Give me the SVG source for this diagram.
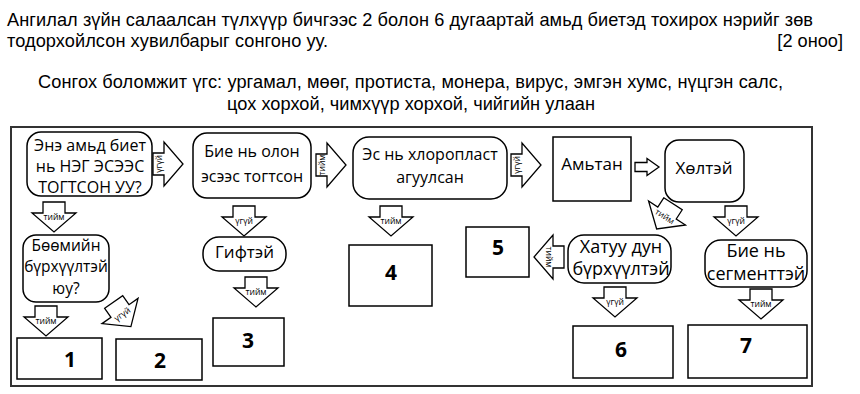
<svg xmlns="http://www.w3.org/2000/svg" xmlns:xlink="http://www.w3.org/1999/xlink" width="860" height="394" viewBox="0 0 860 394">
<style>
.title{font-family:"Liberation Sans",Arial,sans-serif;font-size:18.2px;fill:#000}
.box{fill:#fff;stroke:#000;stroke-width:1.5}
.t{font-family:"Open Sans","Noto Sans",sans-serif;fill:#000;text-anchor:middle}
.num{font-family:"Open Sans","Noto Sans",sans-serif;font-weight:bold;font-size:21px;fill:#000;text-anchor:middle}
.arr{fill:#fff;stroke:#000;stroke-width:1.3;stroke-linejoin:miter}
.al{font-family:"Open Sans","Noto Sans",sans-serif;font-size:8.5px;fill:#000;text-anchor:middle}
</style>
<defs>
<path id="da" d="M-11,-11 H11 V0 H22 L0,19 L-22,0 H-11 Z"/>
</defs>
<rect width="860" height="394" fill="#fff"/>
<g id="heading">
<text class="title" x="7" y="26" textLength="806" lengthAdjust="spacing">Ангилал зүйн салаалсан түлхүүр бичгээс 2 болон 6 дугаартай амьд биетэд тохирох нэрийг зөв</text>
<text class="title" x="7" y="47" textLength="321" lengthAdjust="spacing">тодорхойлсон хувилбарыг сонгоно уу.</text>
<text class="title" x="843" y="47" text-anchor="end">[2 оноо]</text>
<text class="title" x="38" y="88" textLength="745" lengthAdjust="spacing">Сонгох боломжит үгс: ургамал, мөөг, протиста, монера, вирус, эмгэн хумс, нүцгэн салс,</text>
<text class="title" x="227" y="110" textLength="368" lengthAdjust="spacing">цох хорхой, чимхүүр хорхой, чийгийн улаан</text>
</g>
<rect id="frame" x="11" y="127" width="801" height="259" fill="none" stroke="#333" stroke-width="2"/>
<g id="connectors">
<g transform="translate(164,164) rotate(-90)"><use xlink:href="#da" href="#da" class="arr"/><text class="al" x="0" y="-2">үгүй</text></g>
<g transform="translate(327,165) rotate(-90)"><use xlink:href="#da" href="#da" class="arr"/><text class="al" x="0" y="-2">тийм</text></g>
<g transform="translate(522,165) rotate(-90)"><use xlink:href="#da" href="#da" class="arr"/><text class="al" x="0" y="-2">үгүй</text></g>
<path class="arr" d="M635,162.5 H647 V158.5 L659,167 L647,175.5 V171.5 H635 Z"/>
<g transform="translate(54,213)"><use xlink:href="#da" href="#da" class="arr"/><text class="al" x="0" y="7">тийм</text></g>
<g transform="translate(46,317)"><use xlink:href="#da" href="#da" class="arr"/><text class="al" x="0" y="7">тийм</text></g>
<g transform="translate(244,217)"><use xlink:href="#da" href="#da" class="arr"/><text class="al" x="0" y="7">үгүй</text></g>
<g transform="translate(391,217)"><use xlink:href="#da" href="#da" class="arr"/><text class="al" x="0" y="7">тийм</text></g>
<g transform="translate(256,288)"><use xlink:href="#da" href="#da" class="arr"/><text class="al" x="0" y="7">тийм</text></g>
<g transform="translate(615,298)"><use xlink:href="#da" href="#da" class="arr"/><text class="al" x="0" y="7">үгүй</text></g>
<g transform="translate(736,217)"><use xlink:href="#da" href="#da" class="arr"/><text class="al" x="0" y="7">үгүй</text></g>
<g transform="translate(761,300)"><use xlink:href="#da" href="#da" class="arr"/><text class="al" x="0" y="7">тийм</text></g>
<g transform="translate(553,257) rotate(90)"><use xlink:href="#da" href="#da" class="arr"/><text class="al" x="0" y="7">тийм</text></g>
<g transform="translate(667,213) rotate(33)"><use xlink:href="#da" href="#da" class="arr"/><text class="al" x="0" y="7">тийм</text></g>
<g transform="translate(120,311) rotate(-35)"><use xlink:href="#da" href="#da" class="arr"/><text class="al" x="0" y="7">үгүй</text></g>
</g>
<g id="n1"><rect class="box" x="27" y="132" width="125" height="64" rx="14"/>
<text class="t" font-size="16" x="90" y="151">Энэ амьд биет</text>
<text class="t" font-size="16" x="90" y="172">нь НЭГ ЭСЭЭС</text>
<text class="t" font-size="16" x="90" y="193">ТОГТСОН УУ?</text></g>
<g id="n2"><rect class="box" x="193" y="133" width="118" height="65" rx="14"/>
<text class="t" font-size="16" x="252" y="157">Бие нь олон</text>
<text class="t" font-size="16" x="252" y="182">эсээс тогтсон</text></g>
<g id="n3"><rect class="box" x="353" y="137" width="154" height="62" rx="16"/>
<text class="t" font-size="16" x="430" y="160">Эс нь хлоропласт</text>
<text class="t" font-size="16" x="430" y="183">агуулсан</text></g>
<g id="n-amitan"><rect class="box" x="553" y="137" width="78" height="64"/>
<text class="t" font-size="17" x="592" y="170">Амьтан</text></g>
<g id="n-kholtei"><rect class="box" x="665" y="140" width="79" height="62" rx="14"/>
<text class="t" font-size="17" x="704" y="174">Хөлтэй</text></g>
<g id="n-boomiin"><rect class="box" x="23" y="235" width="86" height="67" rx="13"/>
<text class="t" font-size="15.5" x="66" y="251">Бөөмийн</text>
<text class="t" font-size="15.5" x="66" y="272">бүрхүүлтэй</text>
<text class="t" font-size="15.5" x="66" y="294">юу?</text></g>
<g id="n-giftei"><rect class="box" x="203" y="237" width="83" height="34" rx="16"/>
<text class="t" font-size="17" x="244.5" y="258">Гифтэй</text></g>
<g id="n-khatuu"><rect class="box" x="568" y="235" width="103" height="48" rx="16"/>
<text class="t" font-size="18" x="621" y="253">Хатуу дун</text>
<text class="t" font-size="18" x="621" y="275">бүрхүүлтэй</text></g>
<g id="n-segment"><rect class="box" x="705" y="240" width="102" height="47" rx="16"/>
<text class="t" font-size="18" x="756" y="257">Бие нь</text>
<text class="t" font-size="18" x="756" y="280">сегменттэй</text></g>
<g id="b1"><rect class="box" x="17" y="338" width="85" height="41"/><text class="num" x="70" y="367">1</text></g>
<g id="b2"><rect class="box" x="116" y="339" width="86" height="41"/><text class="num" x="160" y="368">2</text></g>
<g id="b3"><rect class="box" x="213" y="318" width="71" height="48"/><text class="num" x="248" y="348">3</text></g>
<g id="b4"><rect class="box" x="349" y="245" width="83" height="61"/><text class="num" x="391" y="280">4</text></g>
<g id="b5"><rect class="box" x="466" y="227" width="63" height="50"/><text class="num" x="498" y="255">5</text></g>
<g id="b6"><rect class="box" x="573" y="326" width="100" height="52"/><text class="num" x="621" y="357">6</text></g>
<g id="b7"><rect class="box" x="688" y="325" width="119" height="53"/><text class="num" x="746" y="353">7</text></g>
</svg>
